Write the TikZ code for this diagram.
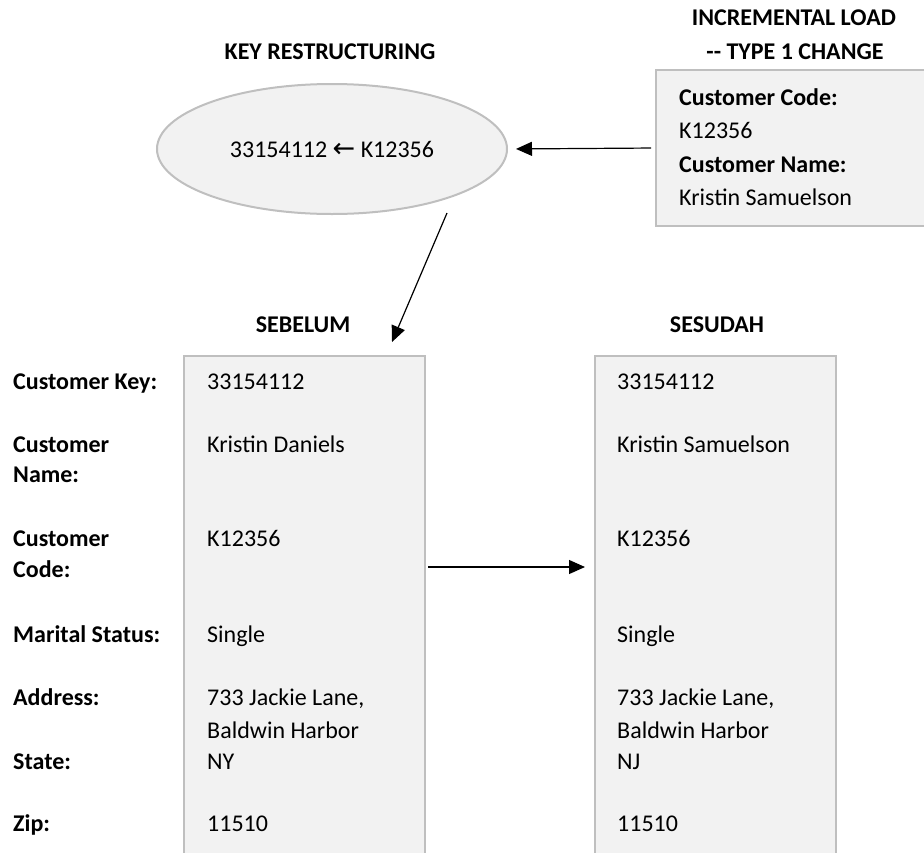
\documentclass[tikz,border=0pt]{standalone}
\usepackage{fontspec}
\setmainfont{Carlito}
\newfontfamily\symfont{DejaVu Sans}
\usetikzlibrary{arrows.meta,shapes.geometric}
\definecolor{boxfill}{HTML}{F2F2F2}
\definecolor{boxline}{HTML}{BFBFBF}
\begin{document}
\begin{tikzpicture}[x=1pt,y=-1pt,
  txt/.style={anchor=base west, inner sep=0pt, font=\fontsize{24}{28}\selectfont},
  lbl/.style={anchor=base west, inner sep=0pt, font=\fontsize{24}{28}\selectfont\bfseries},
  head/.style={anchor=base, inner sep=0pt, font=\fontsize{24}{28}\selectfont\bfseries},
  panel/.style={draw=boxline, fill=boxfill, line width=2pt, inner sep=0pt},
  arr/.style={-{Triangle[length=16pt,width=14pt]}, line width=1.2pt}]
\clip (0,0) rectangle (924,852);

% headers
\node[head] (hkey) at (330,59.5) {KEY RESTRUCTURING};
\node[head] (hinc1) at (794,25.5) {INCREMENTAL LOAD};
\node[head] (hinc2) at (795,59.5) {-{}- TYPE 1 CHANGE};
\node[head] (hbef) at (303,332.5) {SEBELUM};
\node[head] (haft) at (717,332.5) {SESUDAH};

% ellipse
\node[panel, ellipse, minimum width=350pt, minimum height=130pt,
      font=\fontsize{24}{28}\selectfont] (ell) at (332,149) {33154112 {\symfont\fontsize{27}{30}\selectfont ←} K12356};

% incremental load box
\node[panel, minimum width=274pt, minimum height=156pt] (rbox) at (793,148) {};
\node[lbl] (rc1) at (679,105.5) {Customer Code:};
\node[txt] (rc2) at (679,138.5) {K12356};
\node[lbl] (rc3) at (679,172.5) {Customer Name:};
\node[txt] (rc4) at (679,205.5) {Kristin Samuelson};

% panels
\node[panel, minimum width=241pt, minimum height=504pt] (box1) at (304.5,608) {};
\node[panel, minimum width=241pt, minimum height=504pt] (box2) at (715.5,608) {};

% labels
\node[lbl] (l1) at (13,389.5) {Customer Key:};
\node[lbl] (l2a) at (13,452.5) {Customer};
\node[lbl] (l2b) at (13,482.5) {Name:};
\node[lbl] (l3a) at (13,546.5) {Customer};
\node[lbl] (l3b) at (13,577.5) {Code:};
\node[lbl] (l4) at (13,642.5) {Marital Status:};
\node[lbl] (l5) at (13,705.5) {Address:};
\node[lbl] (l6) at (13,769.5) {State:};
\node[lbl] (l7) at (13,831.5) {Zip:};

% values before
\node[txt] (a1) at (207,389.5) {33154112};
\node[txt] (a2) at (207,452.5) {Kristin Daniels};
\node[txt] (a3) at (207,546.5) {K12356};
\node[txt] (a4) at (207,642.5) {Single};
\node[txt] (a5) at (207,705.5) {733 Jackie Lane,};
\node[txt] (a6) at (207,738.5) {Baldwin Harbor};
\node[txt] (a7) at (207,769.5) {NY};
\node[txt] (a8) at (207,831.5) {11510};

% values after
\node[txt] (b1) at (617,389.5) {33154112};
\node[txt] (b2) at (617,452.5) {Kristin Samuelson};
\node[txt] (b3) at (617,546.5) {K12356};
\node[txt] (b4) at (617,642.5) {Single};
\node[txt] (b5) at (617,705.5) {733 Jackie Lane,};
\node[txt] (b6) at (617,738.5) {Baldwin Harbor};
\node[txt] (b7) at (617,769.5) {NJ};
\node[txt] (b8) at (617,831.5) {11510};

% connectors
\draw[arr, shorten <=4pt, shorten >=8pt] (rbox.west) -- (ell.east);
\coordinate (d1) at (447,213);
\coordinate (d2) at (392,342);
\draw[arr] (d1) -- (d2);
\coordinate (mid) at (0,567);
\draw[arr, shorten <=2pt, shorten >=9pt] (box1.east |- mid) -- (box2.west |- mid);
\end{tikzpicture}
\end{document}
